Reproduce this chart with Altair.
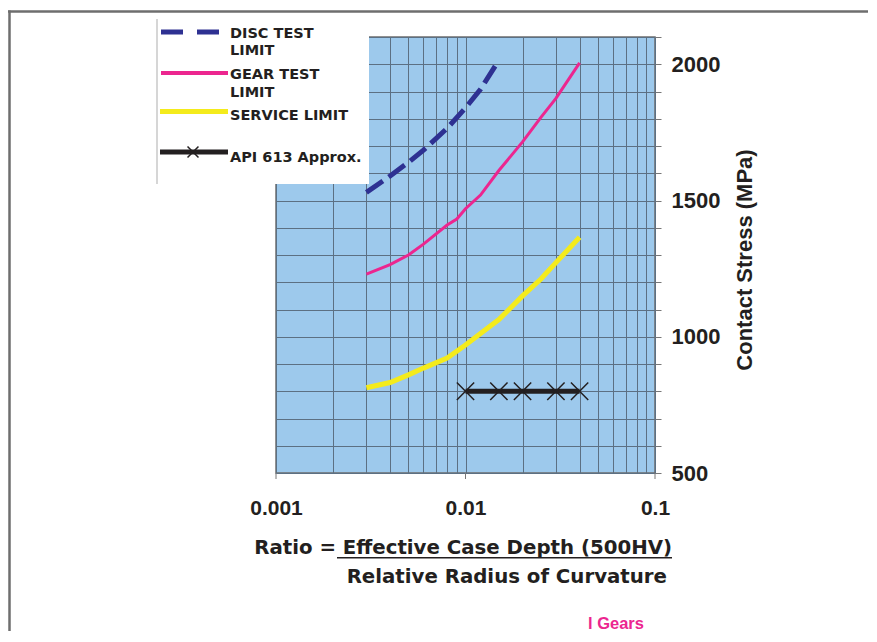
import altair as alt
import pandas as pd

# ---- data ----
disc_x = [0.003, 0.004, 0.005, 0.006, 0.008, 0.010, 0.012, 0.015]
disc_y = [1530, 1590, 1640, 1685, 1765, 1840, 1908, 2015]

gear_x = [0.003, 0.004, 0.005, 0.006, 0.008, 0.009, 0.010, 0.012, 0.015, 0.020, 0.025, 0.030, 0.040]
gear_y = [1230, 1265, 1300, 1340, 1410, 1432, 1470, 1520, 1610, 1715, 1805, 1875, 2005]

svc_x = [0.003, 0.004, 0.005, 0.006, 0.008, 0.010, 0.012, 0.015, 0.020, 0.025, 0.030, 0.040]
svc_y = [813, 832, 860, 885, 922, 970, 1012, 1063, 1150, 1212, 1272, 1365]

api_x = [0.010, 0.015, 0.020, 0.030, 0.040]
api_y = [800, 800, 800, 800, 800]

x_grid_values = [0.001, 0.002, 0.003, 0.004, 0.005, 0.006, 0.007, 0.008, 0.009,
                 0.01, 0.02, 0.03, 0.04, 0.05, 0.06, 0.07, 0.08, 0.09, 0.1]
x_label_values = [0.001, 0.01, 0.1]
y_values = list(range(500, 2101, 100))

legend_labels = ["DISC TEST", "LIMIT", "GEAR TEST", "LIMIT", "SERVICE LIMIT", "API 613 Approx."]
x_title_1 = "Ratio = Effective Case Depth (500HV)"
x_title_2 = "Relative Radius of Curvature"
y_title = "Contact Stress (MPa)"
footer = "l Gears"

# ---- styles ----
W, H = 379, 436
BG = "#9DC9EC"
GRID = "#5C7083"
NAVY = "#2E3192"
PINK = "#EC268F"
YELLOW = "#F4EB1C"
BLACK = "#231F20"
TXT = "#231F20"
LBL_FONT = "Liberation Sans"
WIDE_FONT = "DejaVu Sans"

xscale = alt.Scale(type="log", domain=[0.001, 0.1])
yscale = alt.Scale(domain=[500, 2100], nice=False, zero=False)

x_axis = alt.Axis(
    values=x_grid_values, format="~g",
    labelExpr="datum.value == 0.001 || datum.value == 0.01 || datum.value == 0.1 ? datum.label : ''",
    ticks=False, tickSize=0, domain=False, grid=True, gridColor=GRID, gridWidth=1,
    labelFont=LBL_FONT, labelFontSize=21, labelFontWeight="bold", labelColor=TXT,
    labelPadding=24, labelFlush=False, labelOverlap=False, title=None,
)
y_axis = alt.Axis(
    orient="right", values=y_values, format="d",
    labelExpr="datum.value % 500 == 0 ? datum.label : ''",
    tickSize=6, tickColor="#777777", tickWidth=1, domain=False,
    grid=True, gridColor=GRID, gridWidth=1,
    labelFont=LBL_FONT, labelFontSize=22, labelFontWeight="bold", labelColor=TXT,
    labelPadding=10, labelFlush=False, labelOverlap=False, title=None,
)

X = alt.X("x:Q", scale=xscale, axis=x_axis)
Y = alt.Y("y:Q", scale=yscale, axis=y_axis)

disc = pd.DataFrame({"x": disc_x, "y": disc_y})
gear = pd.DataFrame({"x": gear_x, "y": gear_y})
svc = pd.DataFrame({"x": svc_x, "y": svc_y})
api = pd.DataFrame({"x": api_x, "y": api_y})
dec = pd.DataFrame({"x": x_label_values})
dummy = pd.DataFrame({"a": [1]})

XMARK = "M-1,-1L1,1M-1,1L1,-1"

layers = []

# data lines
layers.append(alt.Chart(disc).mark_line(color=NAVY, strokeWidth=5, strokeDash=[20, 7]).encode(x=X, y=Y))
layers.append(alt.Chart(gear).mark_line(color=PINK, strokeWidth=3).encode(x=X, y=Y))
layers.append(alt.Chart(svc).mark_line(color=YELLOW, strokeWidth=5).encode(x=X, y=Y))
layers.append(alt.Chart(api).mark_line(color=BLACK, strokeWidth=5).encode(x=X, y=Y))
layers.append(alt.Chart(api).mark_point(shape=XMARK, size=300, filled=False, color=BLACK,
                                         strokeWidth=1.5, opacity=1).encode(x=X, y=Y))
# decade ticks on x axis
layers.append(alt.Chart(dec).mark_rule(color="#777777", strokeWidth=1).encode(
    x=X, y=alt.value(H), y2=alt.value(H + 6)))

# legend box
layers.append(alt.Chart(dummy).mark_rect(fill="white").encode(
    x=alt.value(-119), x2=alt.value(93), y=alt.value(-18), y2=alt.value(147)))
layers.append(alt.Chart(dummy).mark_rule(color="#C8C8C8", strokeWidth=1.5).encode(
    x=alt.value(-119), y=alt.value(-18), y2=alt.value(147)))
# legend symbols
layers.append(alt.Chart(dummy).mark_rule(color=NAVY, strokeWidth=5, strokeDash=[22, 14]).encode(
    x=alt.value(-115), x2=alt.value(-56), y=alt.value(-5)))
layers.append(alt.Chart(dummy).mark_rule(color=PINK, strokeWidth=4).encode(
    x=alt.value(-115), x2=alt.value(-48), y=alt.value(36)))
layers.append(alt.Chart(dummy).mark_rule(color=YELLOW, strokeWidth=5).encode(
    x=alt.value(-116), x2=alt.value(-48), y=alt.value(74.5)))
layers.append(alt.Chart(dummy).mark_rule(color=BLACK, strokeWidth=5).encode(
    x=alt.value(-116), x2=alt.value(-48), y=alt.value(115)))
layers.append(alt.Chart(dummy).mark_point(shape=XMARK, size=120, filled=False, color=BLACK,
                                           strokeWidth=1.5, opacity=1).encode(
    x=alt.value(-83), y=alt.value(115)))
legend_y = [0.7, 18, 42, 59.7, 83.3, 124.7]
for txt, yy in zip(legend_labels, legend_y):
    layers.append(alt.Chart(dummy).mark_text(
        text=txt, font=WIDE_FONT, fontSize=14.5, fontWeight="bold", color=TXT,
        align="left", baseline="alphabetic").encode(x=alt.value(-46), y=alt.value(yy)))

# x title (two lines, underlined numerator)
layers.append(alt.Chart(dummy).mark_text(
    text=x_title_1, font=WIDE_FONT, fontSize=19.75, fontWeight="bold", color=TXT,
    align="right", baseline="alphabetic").encode(x=alt.value(396), y=alt.value(517)))
layers.append(alt.Chart(dummy).mark_rule(color=TXT, strokeWidth=1.5).encode(
    x=alt.value(61), x2=alt.value(396), y=alt.value(520.7)))
layers.append(alt.Chart(dummy).mark_text(
    text=x_title_2, font=WIDE_FONT, fontSize=19.75, fontWeight="bold", color=TXT,
    align="right", baseline="alphabetic").encode(x=alt.value(391), y=alt.value(546)))
# y title
layers.append(alt.Chart(dummy).mark_text(
    text=y_title, font=LBL_FONT, fontSize=22, fontWeight="bold", color=TXT, angle=270,
    align="center", baseline="alphabetic").encode(x=alt.value(476), y=alt.value(223)))
# footer
layers.append(alt.Chart(dummy).mark_text(
    text=footer, font=LBL_FONT, fontSize=16.5, fontWeight="bold", color=PINK,
    align="left", baseline="alphabetic").encode(x=alt.value(312), y=alt.value(592)))
# outer frame
layers.append(alt.Chart(dummy).mark_rule(color="#6E6E6E", strokeWidth=2.5).encode(
    x=alt.value(-268), x2=alt.value(620), y=alt.value(-25.5)))
layers.append(alt.Chart(dummy).mark_rule(color="#6E6E6E", strokeWidth=2.5).encode(
    x=alt.value(-266.5), y=alt.value(-26.5), y2=alt.value(600)))

chart = alt.layer(*layers).properties(
    width=W, height=H,
    padding={"left": 268, "top": 29, "right": 213, "bottom": 158},
    autosize=alt.AutoSizeParams(type="none"),
    background="white",
).configure_view(fill=BG, stroke="#6E6E6E", strokeWidth=1.5)

chart.save("out.html", embed_options={"renderer": "svg", "actions": False})
